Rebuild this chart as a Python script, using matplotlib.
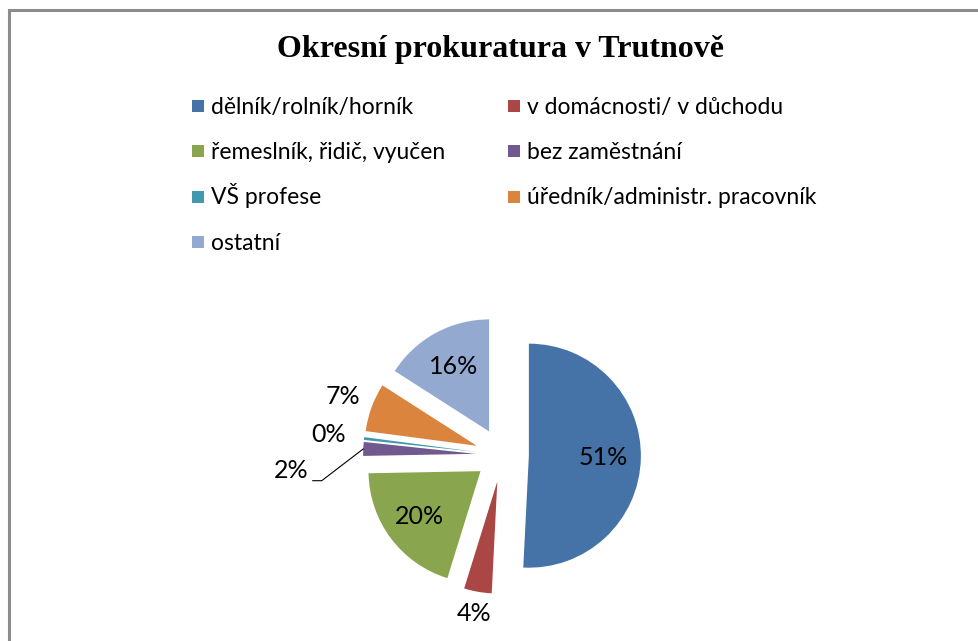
import numpy as np
import matplotlib
matplotlib.use("Agg")
import matplotlib.pyplot as plt
from matplotlib.patches import Rectangle, Patch
from matplotlib.legend_handler import HandlerPatch

categories = ["dělník/rolník/horník", "v domácnosti/ v důchodu", "řemeslník, řidič, vyučen",
              "bez zaměstnání", "VŠ profese", "úředník/administr. pracovník", "ostatní"]
values = [51, 4, 20, 2, 0.4, 7, 16]
colors = ["#4572A7", "#AA4643", "#89A54E", "#71588F", "#4198AF", "#DB843D", "#93A9CF"]
title = "Okresní prokuratura v Trutnově"

# label distance (in radii) from the exploded wedge tip
label_dist = [0.66, 1.20, 0.68, None, 1.32, 1.27, 0.66]

W, H = 979, 641
fig = plt.figure(figsize=(W / 100, H / 100), dpi=100)

# pie axes: 1 data unit = R px, pie centre at (cx, cy) px from top-left
R, cx, cy = 112.0, 502.0, 455.0
ax = fig.add_axes([0, 0, 1, 1])
wedges, _ = ax.pie(values, colors=colors, startangle=90, counterclock=False,
                   explode=[0.24] * len(values), radius=1.0,
                   wedgeprops=dict(linewidth=0))
ax.set_xlim(-cx / R, (W - cx) / R)
ax.set_ylim((cy - H) / R, cy / R)
ax.set_aspect("auto")
ax.axis("off")

lab_font = dict(family=["Lato", "DejaVu Sans"], fontsize=18, color="#000000")
total = sum(values)
for w, v, d in zip(wedges, values, label_dist):
    th = np.deg2rad((w.theta1 + w.theta2) / 2)
    x0, y0 = w.center
    txt = "%d%%" % round(100 * v / total)
    if d is None:
        # small slice: label moved out with a leader line
        ex, ey = x0 + np.cos(th), y0 + np.sin(th)
        kx, ky = x0 - 1.37, y0 - 0.24
        ax.plot([ex, kx, kx - 0.08], [ey, ky, ky], color="#000000", lw=0.8)
        ax.text(kx - 0.12, ky + 0.09, txt, ha="right", va="center", **lab_font)
    else:
        ax.text(x0 + d * np.cos(th), y0 + d * np.sin(th), txt,
                ha="center", va="center", **lab_font)

fig.text(501 / W, 1 - 50 / H, title, ha="center", va="center",
         family=["Liberation Serif", "DejaVu Serif"], fontweight="bold", fontsize=23)


def small_square(legend, orig_handle, xdescent, ydescent, width, height, fontsize):
    s = 8.6
    return Rectangle((-xdescent, -ydescent + (height - s) / 2), s, s)


# legend filled column-wise, so reorder to read row by row
order = [0, 2, 4, 6, 1, 3, 5]
handles = [Patch(facecolor=colors[i], edgecolor="none") for i in order]
labels = [categories[i] for i in order]
fig.legend(handles, labels, ncol=2, loc="upper left",
           bbox_to_anchor=(192 / W, 1 - 92 / H), frameon=False,
           prop=dict(family=["Lato", "DejaVu Sans"], size=16.5),
           handler_map={Patch: HandlerPatch(patch_func=small_square)},
           handlelength=0.52, handleheight=1.5, handletextpad=0.3,
           labelspacing=0.76, columnspacing=2.75, borderpad=0, borderaxespad=0)

# chart border, cropped on the right and bottom
fig.patches.append(Rectangle((9 / W, -0.1), 1.2, 1.1 - 10 / H, transform=fig.transFigure,
                             facecolor="none", edgecolor="#8c8c8c", lw=2.2))

fig.savefig("out.png", dpi=100)
